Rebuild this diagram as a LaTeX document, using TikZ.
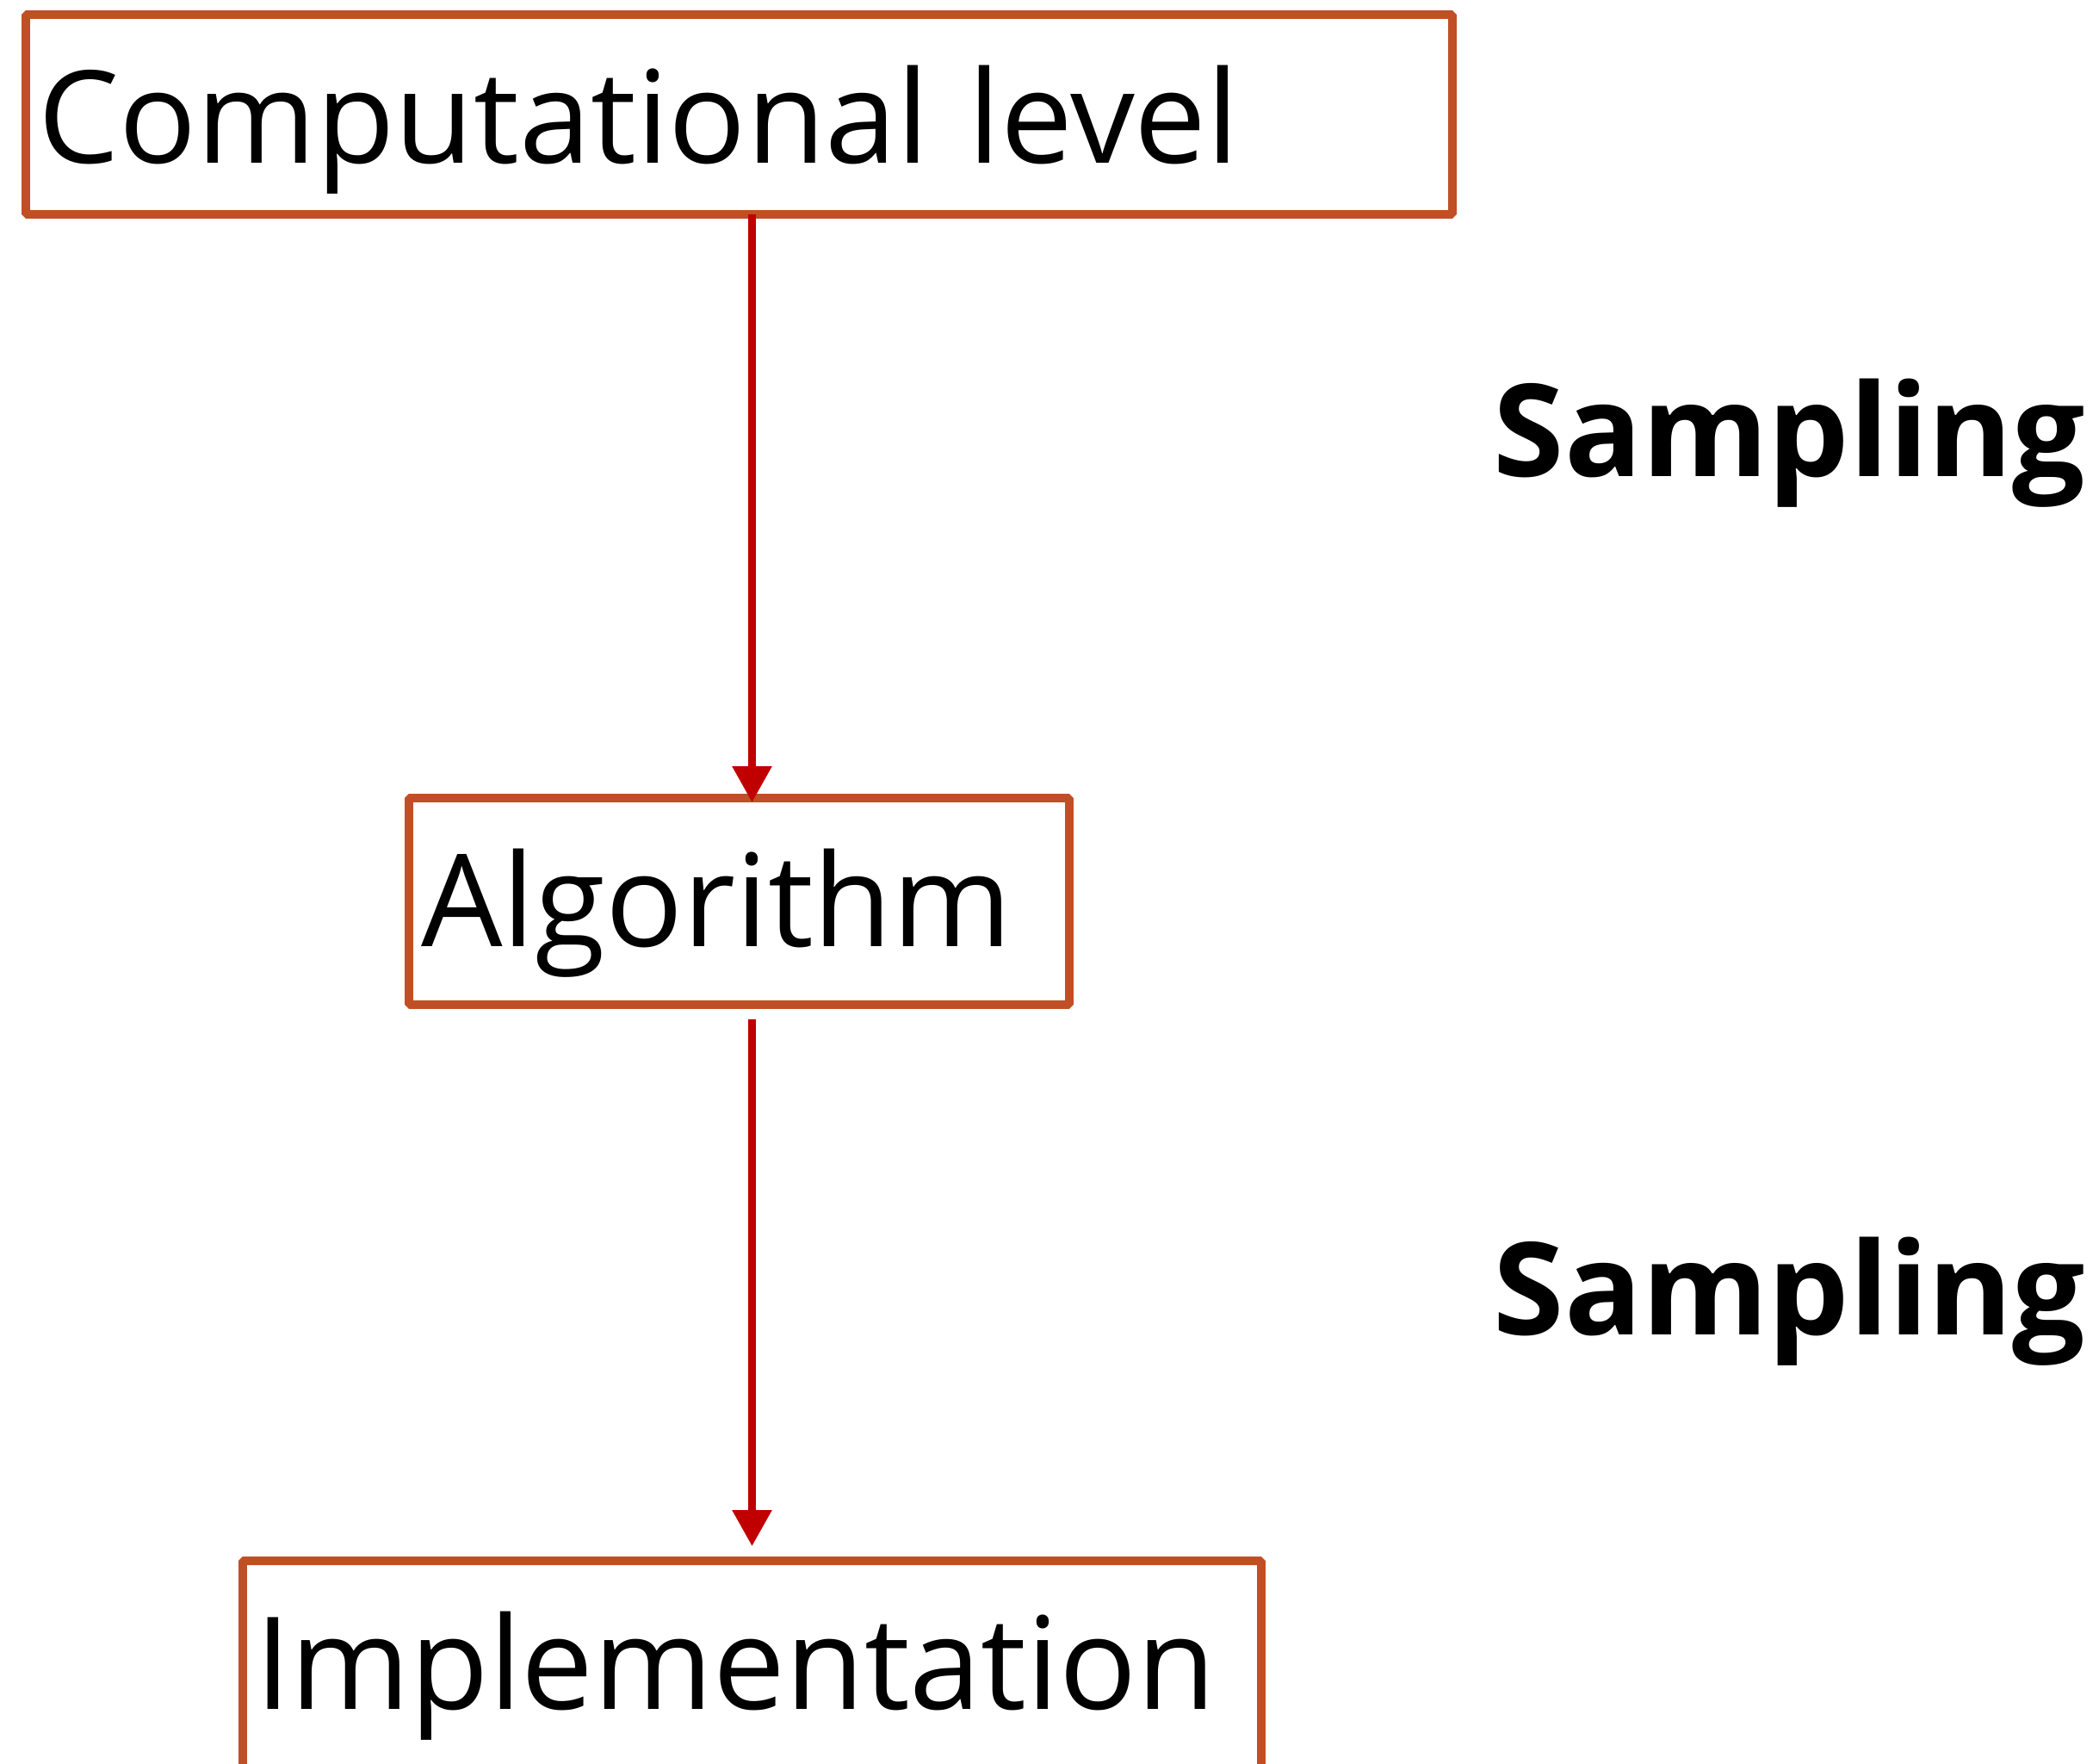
\documentclass[tikz,border=0pt]{standalone}
\usepackage{fontspec}
\setmainfont{Open Sans}
\usepackage{tikz}
\usetikzlibrary{arrows.meta}
\definecolor{LvlRust}{RGB}{193,79,38}
\definecolor{LvlRed}{RGB}{192,0,0}

\begin{document}
\begin{tikzpicture}[
          lvl/.style={rectangle, draw=LvlRust, line width=0.095cm, line join=bevel,
                      anchor=north west, align=left, inner xsep=0.14cm, inner ysep=0pt,
                      outer sep=0pt, text height=1.72cm,
                      font=\fontsize{42.5}{50}\selectfont},
          smp/.style={anchor=base west, inner sep=0pt,
                      font=\fontsize{42.5}{50}\selectfont\bfseries},
          arr/.style={-{Triangle[length=0.42cm, width=0.44cm]}, draw=LvlRed,
                      line width=0.09cm}
        ]
        \clip (0,0) rectangle (24.38,-20.49);

        \node[lvl, text width=16.29cm, text depth=0.60cm] (comp) at (0.30,-0.17)
              {Computational\hspace{0.3em}level};
        \node[lvl, text width=7.39cm, text depth=0.68cm]  (alg)  at (4.75,-9.27)
              {Algorithm};
        \node[lvl, text width=11.55cm, text depth=0.78cm] (impl) at (2.82,-18.13)
              {Implementation};

        \node[smp] (samp1) at (17.34,-5.53)  {Sampling};
        \node[smp] (samp2) at (17.34,-15.50) {Sampling};

        \draw[arr, shorten >=-0.05cm] (comp.south -| impl.north) -- (alg.north -| impl.north);
        \draw[arr, shorten <=0.17cm, shorten >=0.17cm] (alg.south -| impl.north) -- (impl.north);
      \end{tikzpicture}
\end{document}
